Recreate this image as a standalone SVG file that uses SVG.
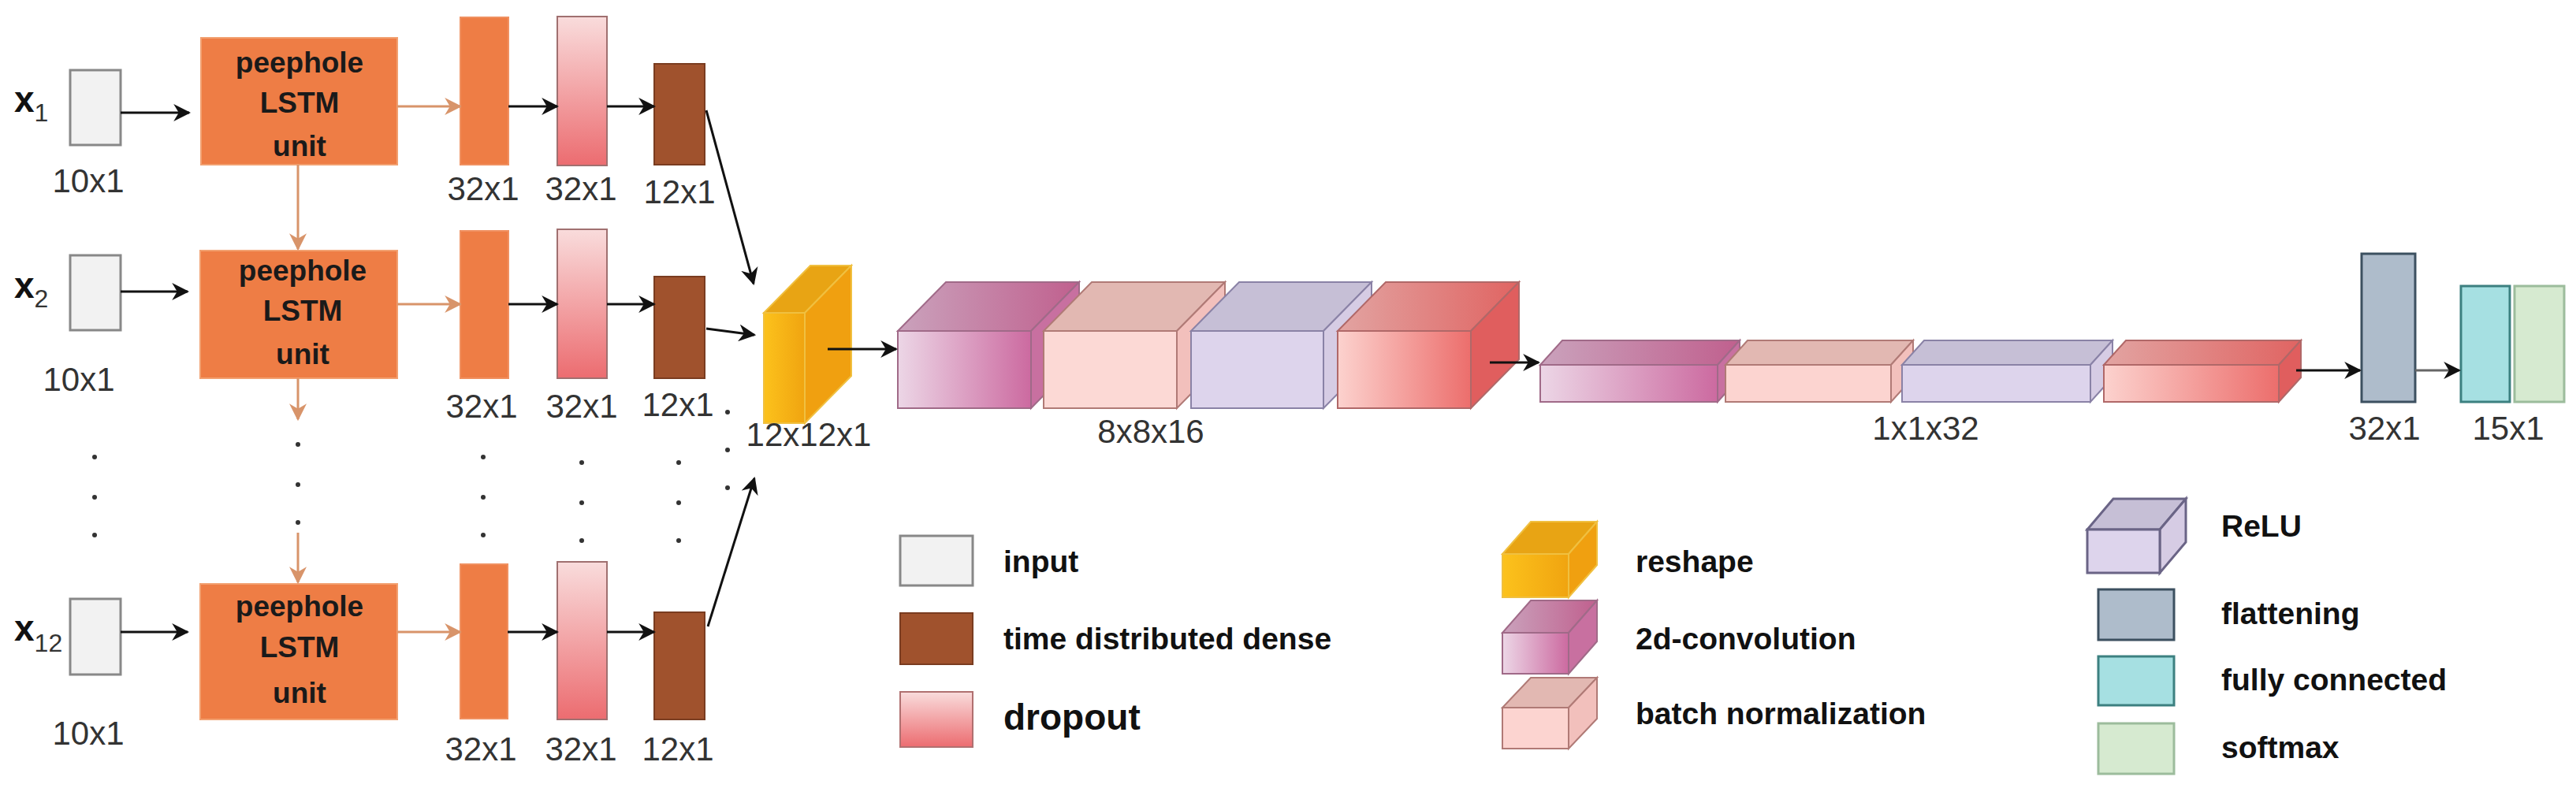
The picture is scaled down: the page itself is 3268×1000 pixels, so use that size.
<svg xmlns="http://www.w3.org/2000/svg" width="3268" height="1000" viewBox="0 0 3268 1000">
<defs>
<linearGradient id="gPink" x1="0" y1="0" x2="0" y2="1"><stop offset="0" stop-color="#f9dcdc"/><stop offset="1" stop-color="#ec6c70"/></linearGradient>
<linearGradient id="gConv" x1="0" y1="0" x2="1" y2="0"><stop offset="0" stop-color="#ecd6e6"/><stop offset="1" stop-color="#cc6aa0"/></linearGradient>
<linearGradient id="gConvT" x1="0" y1="0" x2="1" y2="0"><stop offset="0" stop-color="#caa2bc"/><stop offset="1" stop-color="#c0608e"/></linearGradient>
<linearGradient id="gDrop" x1="0" y1="0" x2="1" y2="0"><stop offset="0" stop-color="#fcd2ce"/><stop offset="1" stop-color="#ec6e6c"/></linearGradient>
<linearGradient id="gDropT" x1="0" y1="0" x2="1" y2="0"><stop offset="0" stop-color="#e2a4a2"/><stop offset="1" stop-color="#e06462"/></linearGradient>
<linearGradient id="gRes" x1="0" y1="0" x2="1" y2="0"><stop offset="0" stop-color="#fcc21c"/><stop offset="1" stop-color="#f0a410"/></linearGradient>
<marker id="abk" viewBox="0 0 10 10" refX="9" refY="5" markerWidth="22" markerHeight="22" orient="auto" markerUnits="userSpaceOnUse"><path d="M0,0 L10,5 L0,10 L3,5 z" fill="#111"/></marker>
<marker id="at" viewBox="0 0 10 10" refX="9" refY="5" markerWidth="22" markerHeight="22" orient="auto" markerUnits="userSpaceOnUse"><path d="M0,0 L10,5 L0,10 L3,5 z" fill="#d8946a"/></marker>
</defs>
<style>
.inp{fill:#f2f2f2;stroke:#888;stroke-width:3}
.lstm{fill:#ee7d45;stroke:#f2a070;stroke-width:2}
.lt{font-family:"Liberation Sans",Arial,sans-serif;font-weight:bold;font-size:37px;fill:#1a1a1a;text-anchor:middle}
.or{fill:#ee7d45;stroke:#f09060;stroke-width:2}
.pk{fill:url(#gPink);stroke:#a07070;stroke-width:2}
.br{fill:#a0522d;stroke:#7a3c20;stroke-width:2}
.num{font-family:"Liberation Sans",Arial,sans-serif;font-size:42px;fill:#333;text-anchor:middle}
.xl{font-family:"Liberation Sans",Arial,sans-serif;font-weight:bold;font-size:46px;fill:#111}
.sub{font-family:"Liberation Sans",Arial,sans-serif;font-weight:normal;font-size:32px;fill:#333}
.leg{font-family:"Liberation Sans",Arial,sans-serif;font-weight:bold;font-size:39px;fill:#111;dominant-baseline:central}
.dot{fill:#333}
.blk{stroke:#111;stroke-width:3;fill:none;marker-end:url(#abk)}
.tan{stroke:#d8946a;stroke-width:3;fill:none;marker-end:url(#at)}
.cs{stroke-width:2}
</style>

<g id="row1">
<text class="xl" x="18" y="142">x<tspan class="sub" dy="12">1</tspan></text>
<rect class="inp" x="89" y="89" width="64" height="95"/>
<text class="num" x="112" y="244">10x1</text>
<rect class="lstm" x="255" y="48" width="249" height="161"/>
<text class="lt" x="380" y="92">peephole</text><text class="lt" x="380" y="143">LSTM</text><text class="lt" x="380" y="198">unit</text>
<rect class="or" x="584" y="22" width="61" height="187"/>
<rect class="pk" x="707" y="21" width="63" height="189"/>
<rect class="br" x="830" y="81" width="64" height="128"/>
<text class="num" x="613" y="254">32x1</text><text class="num" x="737" y="254">32x1</text><text class="num" x="862" y="258">12x1</text>
</g>
<g id="row2">
<text class="xl" x="18" y="378">x<tspan class="sub" dy="12">2</tspan></text>
<rect class="inp" x="89" y="324" width="64" height="95"/>
<text class="num" x="100" y="496">10x1</text>
<rect class="lstm" x="254" y="318" width="250" height="162"/>
<text class="lt" x="384" y="356">peephole</text><text class="lt" x="384" y="407">LSTM</text><text class="lt" x="384" y="462">unit</text>
<rect class="or" x="584" y="293" width="61" height="187"/>
<rect class="pk" x="707" y="291" width="63" height="189"/>
<rect class="br" x="830" y="351" width="64" height="129"/>
<text class="num" x="611" y="530">32x1</text><text class="num" x="738" y="530">32x1</text><text class="num" x="860" y="528">12x1</text>
</g>
<g id="row3">
<text class="xl" x="18" y="813">x<tspan class="sub" dy="14">12</tspan></text>
<rect class="inp" x="89" y="760" width="64" height="96"/>
<text class="num" x="112" y="945">10x1</text>
<rect class="lstm" x="254" y="741" width="250" height="172"/>
<text class="lt" x="380" y="782">peephole</text><text class="lt" x="380" y="834">LSTM</text><text class="lt" x="380" y="892">unit</text>
<rect class="or" x="584" y="716" width="60" height="196"/>
<rect class="pk" x="707" y="713" width="63" height="200"/>
<rect class="br" x="830" y="777" width="64" height="136"/>
<text class="num" x="610" y="965">32x1</text><text class="num" x="737" y="965">32x1</text><text class="num" x="860" y="965">12x1</text>
</g>
<g id="dots">
<circle class="dot" cx="120" cy="580" r="3"/><circle class="dot" cx="120" cy="631" r="3"/><circle class="dot" cx="120" cy="679" r="3"/>
<circle class="dot" cx="378" cy="564" r="3"/><circle class="dot" cx="378" cy="615" r="3"/><circle class="dot" cx="378" cy="663" r="3"/>
<circle class="dot" cx="613" cy="580" r="3"/><circle class="dot" cx="613" cy="631" r="3"/><circle class="dot" cx="613" cy="679" r="3"/>
<circle class="dot" cx="738" cy="587" r="3"/><circle class="dot" cx="738" cy="638" r="3"/><circle class="dot" cx="738" cy="686" r="3"/>
<circle class="dot" cx="861" cy="587" r="3"/><circle class="dot" cx="861" cy="638" r="3"/><circle class="dot" cx="861" cy="686" r="3"/>
<circle class="dot" cx="923" cy="523" r="3"/><circle class="dot" cx="923" cy="571" r="3"/><circle class="dot" cx="923" cy="619" r="3"/>
</g>

<g id="reshape">
<polygon points="969,397 1021,397 1080,337 1028,337" fill="#e8a414" stroke="#f0c040" stroke-width="2"/>
<polygon points="1021,397 1080,337 1080,477 1021,537" fill="#f0a010" stroke="#f0c040" stroke-width="2"/>
<rect x="969" y="397" width="52" height="140" fill="url(#gRes)" stroke="#f0c040" stroke-width="2"/>
<text class="num" x="1026" y="566">12x12x1</text>
</g>

<g id="conv1">
<polygon points="1139,420 1308,420 1369,358 1200,358" fill="url(#gConvT)" stroke="#a06a88" class="cs"/>
<polygon points="1308,420 1369,358 1369,456 1308,518" fill="#c870a0" stroke="#a06a88" class="cs"/>
<rect x="1139" y="420" width="169" height="98" fill="url(#gConv)" stroke="#a06a88" class="cs"/>
</g>
<g id="bn1">
<polygon points="1324,420 1493,420 1554,358 1385,358" fill="#e2b8b2" stroke="#b07a76" class="cs"/>
<polygon points="1493,420 1554,358 1554,456 1493,518" fill="#f2c0bc" stroke="#b07a76" class="cs"/>
<rect x="1324" y="420" width="169" height="98" fill="#fcd9d5" stroke="#b07a76" class="cs"/>
</g>
<g id="relu1">
<polygon points="1511,420 1679,420 1740,358 1572,358" fill="#c6bfd6" stroke="#8a82a6" class="cs"/>
<polygon points="1679,420 1740,358 1740,456 1679,518" fill="#d6cce4" stroke="#8a82a6" class="cs"/>
<rect x="1511" y="420" width="168" height="98" fill="#ddd4ec" stroke="#8a82a6" class="cs"/>
</g>
<g id="drop1">
<polygon points="1697,420 1866,420 1927,358 1758,358" fill="url(#gDropT)" stroke="#b06868" class="cs"/>
<polygon points="1866,420 1927,358 1927,456 1866,518" fill="#e05e5e" stroke="#b06868" class="cs"/>
<rect x="1697" y="420" width="169" height="98" fill="url(#gDrop)" stroke="#b06868" class="cs"/>
<text class="num" x="1460" y="562">8x8x16</text>
</g>

<g id="conv2">
<polygon points="1954,463 2179,463 2207,432 1982,432" fill="url(#gConvT)" stroke="#a06a88" class="cs"/>
<polygon points="2179,463 2207,432 2207,479 2179,510" fill="#c870a0" stroke="#a06a88" class="cs"/>
<rect x="1954" y="463" width="225" height="47" fill="url(#gConv)" stroke="#a06a88" class="cs"/>
</g>
<g id="bn2">
<polygon points="2189,463 2399,463 2427,432 2217,432" fill="#e2b8b2" stroke="#b07a76" class="cs"/>
<polygon points="2399,463 2427,432 2427,479 2399,510" fill="#f2c0bc" stroke="#b07a76" class="cs"/>
<rect x="2189" y="463" width="210" height="47" fill="#fcd4d0" stroke="#b07a76" class="cs"/>
</g>
<g id="relu2">
<polygon points="2413,463 2652,463 2680,432 2441,432" fill="#c6bfd6" stroke="#8a82a6" class="cs"/>
<polygon points="2652,463 2680,432 2680,479 2652,510" fill="#d6cce4" stroke="#8a82a6" class="cs"/>
<rect x="2413" y="463" width="239" height="47" fill="#ddd4ec" stroke="#8a82a6" class="cs"/>
</g>
<g id="drop2">
<polygon points="2669,463 2891,463 2919,432 2697,432" fill="url(#gDropT)" stroke="#b06868" class="cs"/>
<polygon points="2891,463 2919,432 2919,479 2891,510" fill="#e05e5e" stroke="#b06868" class="cs"/>
<rect x="2669" y="463" width="222" height="47" fill="url(#gDrop)" stroke="#b06868" class="cs"/>
<text class="num" x="2443" y="558">1x1x32</text>
</g>

<g id="flatten">
<rect x="2996" y="322" width="68" height="188" fill="#aebccb" stroke="#3c5060" stroke-width="3"/>
<text class="num" x="3025" y="558">32x1</text>
</g>
<g id="fc"><rect x="3122" y="363" width="62" height="147" fill="#a6e0e2" stroke="#3c8080" stroke-width="3"/></g>
<g id="softmax">
<rect x="3190" y="363" width="63" height="147" fill="#d6ead0" stroke="#9cbc9c" stroke-width="3"/>
<text class="num" x="3182" y="558">15x1</text>
</g>

<g id="connectors">
<line class="blk" x1="153" y1="143" x2="240" y2="143"/>
<line class="blk" x1="153" y1="370" x2="238" y2="370"/>
<line class="blk" x1="153" y1="802" x2="238" y2="802"/>
<line class="tan" x1="504" y1="135" x2="584" y2="135"/>
<line class="tan" x1="504" y1="386" x2="584" y2="386"/>
<line class="tan" x1="504" y1="802" x2="584" y2="802"/>
<line class="blk" x1="645" y1="135" x2="707" y2="135"/>
<line class="blk" x1="645" y1="386" x2="707" y2="386"/>
<line class="blk" x1="644" y1="802" x2="707" y2="802"/>
<line class="blk" x1="770" y1="135" x2="830" y2="135"/>
<line class="blk" x1="770" y1="386" x2="830" y2="386"/>
<line class="blk" x1="770" y1="802" x2="830" y2="802"/>
<line class="tan" x1="378" y1="209" x2="378" y2="316"/>
<line class="tan" x1="378" y1="480" x2="378" y2="532"/>
<line class="tan" x1="378" y1="676" x2="378" y2="739"/>
<line class="blk" x1="896" y1="140" x2="956" y2="360"/>
<line class="blk" x1="896" y1="417" x2="957" y2="425"/>
<line class="blk" x1="898" y1="795" x2="957" y2="607"/>
<line class="blk" x1="1050" y1="443" x2="1137" y2="443"/>
<line class="blk" x1="1890" y1="460" x2="1952" y2="460"/>
<line class="blk" x1="2913" y1="470" x2="2994" y2="470"/>
<line class="blk" x1="3064" y1="470" x2="3120" y2="470" style="stroke:#666"/>
</g>

<g id="legend">
<rect class="inp" x="1142" y="680" width="92" height="63"/>
<text class="leg" x="1273" y="712">input</text>
<rect x="1142" y="778" width="92" height="65" fill="#a0522d" stroke="#7a3c20" stroke-width="2"/>
<text class="leg" x="1273" y="810">time distributed dense</text>
<rect x="1142" y="878" width="92" height="70" fill="url(#gPink)" stroke="#b07070" stroke-width="2"/>
<text class="leg" x="1273" y="910" style="font-size:46px">dropout</text>

<polygon points="1906,703 1990,703 2026,662 1942,662" fill="#e8a414" stroke="#f0c040" stroke-width="2"/>
<polygon points="1990,703 2026,662 2026,717 1990,758" fill="#f0a010" stroke="#f0c040" stroke-width="2"/>
<rect x="1906" y="703" width="84" height="55" fill="url(#gRes)" stroke="#f0c040" stroke-width="2"/>
<text class="leg" x="2075" y="712">reshape</text>
<polygon points="1906,803 1990,803 2026,762 1942,762" fill="url(#gConvT)" stroke="#a06a88" class="cs"/>
<polygon points="1990,803 2026,762 2026,814 1990,855" fill="#c870a0" stroke="#a06a88" class="cs"/>
<rect x="1906" y="803" width="84" height="52" fill="url(#gConv)" stroke="#a06a88" class="cs"/>
<text class="leg" x="2075" y="810">2d-convolution</text>
<polygon points="1906,898 1990,898 2026,860 1942,860" fill="#e2b8b2" stroke="#b07a76" class="cs"/>
<polygon points="1990,898 2026,860 2026,912 1990,950" fill="#f2c0bc" stroke="#b07a76" class="cs"/>
<rect x="1906" y="898" width="84" height="52" fill="#fcd4d0" stroke="#b07a76" class="cs"/>
<text class="leg" x="2075" y="905">batch normalization</text>

<polygon points="2648,672 2740,672 2773,633 2681,633" fill="#c6bfd6" stroke="#6a6486" stroke-width="3"/>
<polygon points="2740,672 2773,633 2773,688 2740,727" fill="#d6cce4" stroke="#6a6486" stroke-width="3"/>
<rect x="2648" y="672" width="92" height="55" fill="#ddd4ec" stroke="#6a6486" stroke-width="3"/>
<text class="leg" x="2818" y="667">ReLU</text>
<rect x="2662" y="748" width="96" height="64" fill="#aebccb" stroke="#3c5060" stroke-width="3"/>
<text class="leg" x="2818" y="778">flattening</text>
<rect x="2662" y="833" width="96" height="62" fill="#a6e0e2" stroke="#3c8080" stroke-width="3"/>
<text class="leg" x="2818" y="862">fully connected</text>
<rect x="2662" y="918" width="96" height="64" fill="#d6ead0" stroke="#9cbc9c" stroke-width="3"/>
<text class="leg" x="2818" y="948">softmax</text>
</g>
</svg>
